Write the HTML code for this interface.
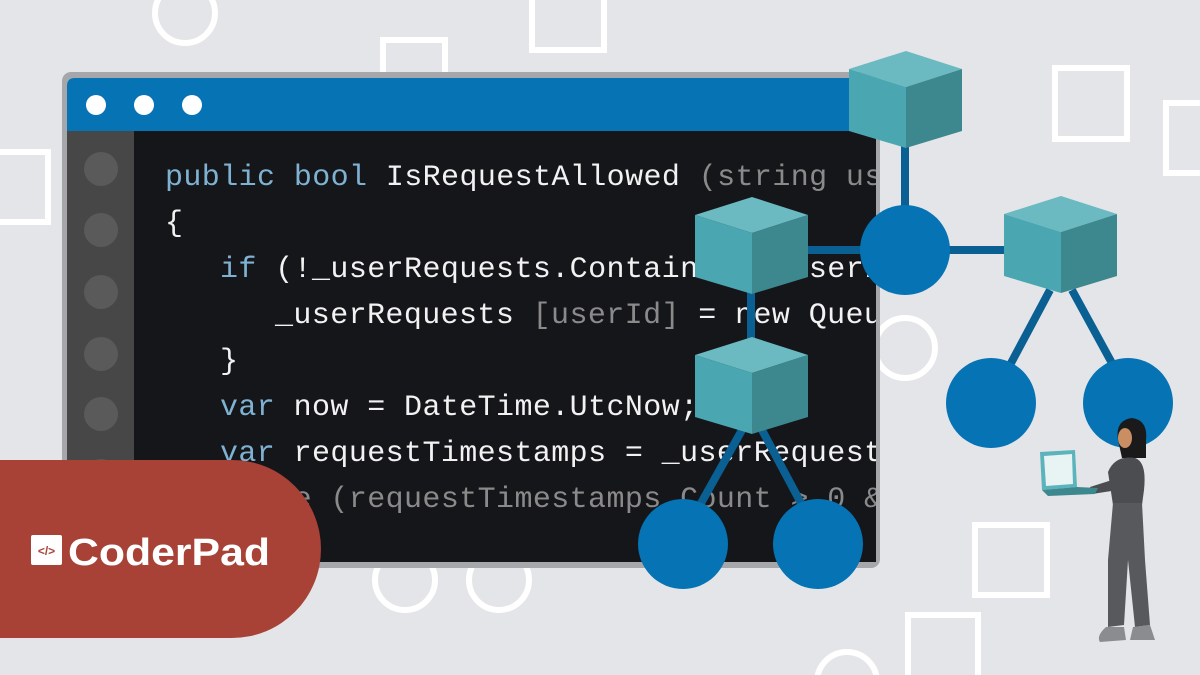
<!DOCTYPE html>
<html><head><meta charset="utf-8"><style>
html,body{margin:0;padding:0;width:1200px;height:675px;overflow:hidden;background:#e3e5e8}
svg{display:block}
.code{font-family:"Liberation Mono",monospace;font-size:30px;letter-spacing:0.4px;white-space:pre}
</style></head><body>
<svg width="1200" height="675" viewBox="0 0 1200 675" xmlns="http://www.w3.org/2000/svg">
<rect width="1200" height="675" fill="#e3e5e8"/>
<g fill="none" stroke="#fff" stroke-width="6">
<circle cx="185" cy="13" r="30"/>
<rect x="383" y="40" width="62" height="60"/>
<rect x="532" y="-10" width="72" height="60"/>
<rect x="-10" y="152" width="58" height="70"/>
<rect x="1055" y="68" width="72" height="71"/>
<rect x="1166" y="103" width="50" height="70"/>
<circle cx="905" cy="348" r="30"/>
<rect x="975" y="525" width="72" height="70"/>
<rect x="908" y="615" width="70" height="70"/>
<circle cx="847" cy="682" r="30"/>
<circle cx="405" cy="580" r="30"/>
<circle cx="499" cy="580" r="30"/>
</g>
<rect x="62" y="72" width="818" height="496" rx="9" fill="#a5a7aa"/>
<path d="M67 131 V86 Q67 78 75 78 H876 V131 Z" fill="#0573b4"/>
<circle cx="96" cy="105" r="10" fill="#fff"/><circle cx="144" cy="105" r="10" fill="#fff"/><circle cx="192" cy="105" r="10" fill="#fff"/>
<rect x="67" y="131" width="67" height="431" fill="#474747"/>
<rect x="134" y="131" width="742" height="431" fill="#15161a"/>
<g fill="#5a5a5a"><circle cx="101" cy="169" r="17"/><circle cx="101" cy="230" r="17"/><circle cx="101" cy="292" r="17"/><circle cx="101" cy="354" r="17"/><circle cx="101" cy="414" r="17"/><circle cx="101" cy="476" r="17"/></g>
<clipPath id="cc"><rect x="134" y="131" width="742" height="431"/></clipPath>
<g class="code" clip-path="url(#cc)" fill="#f2f2f2">
<text x="165" y="185"><tspan fill="#7fb2d2">public bool</tspan> IsRequestAllowed <tspan fill="#8a8a8a">(string userId)</tspan></text>
<text x="165" y="231">{</text>
<text x="220" y="277"><tspan fill="#7fb2d2">if</tspan> (!_userRequests.ContainsKey(userId))</text>
<text x="275" y="323">_userRequests <tspan fill="#8a8a8a">[userId]</tspan> = new Queue</text>
<text x="220" y="369">}</text>
<text x="220" y="415"><tspan fill="#7fb2d2">var</tspan> now = DateTime.UtcNow;</text>
<text x="220" y="461"><tspan fill="#7fb2d2">var</tspan> requestTimestamps = _userRequests</text>
<text x="220" y="507" fill="#8a8a8a">while (requestTimestamps.Count &gt; 0 &amp;&amp;</text>
</g>
<path d="M0 460 H232 A89 89 0 0 1 232 638 H0 Z" fill="#a84237"/>
<rect x="31" y="535" width="31" height="30" rx="2" fill="#fff"/>
<text x="46.5" y="555" text-anchor="middle" font-family="Liberation Sans,sans-serif" font-size="12" font-weight="bold" fill="#a84237">&lt;/&gt;</text>
<text x="68" y="565" font-family="Liberation Sans,sans-serif" font-weight="bold" font-size="38" fill="#fff" textLength="202" lengthAdjust="spacingAndGlyphs">CoderPad</text>
<g stroke="#0a5f93" stroke-width="8" fill="none">
<line x1="905" y1="140" x2="905" y2="210"/>
<line x1="800" y1="250" x2="870" y2="250"/>
<line x1="940" y1="250" x2="1010" y2="250"/>
<line x1="751" y1="290" x2="751" y2="340"/>
<line x1="742" y1="430" x2="700" y2="505"/>
<line x1="762" y1="430" x2="802" y2="505"/>
<line x1="1050" y1="290" x2="1010" y2="365"/>
<line x1="1072" y1="290" x2="1113" y2="365"/>
</g>
<g fill="#0573b4">
<circle cx="905" cy="250" r="45"/>
<circle cx="991" cy="403" r="45"/><circle cx="1128" cy="403" r="45"/>
<circle cx="683" cy="544" r="45"/><circle cx="818" cy="544" r="45"/>
</g>
<defs><g id="cube">
<polygon points="0,18 57,0 113,18 57,36" fill="#6bb9c1"/>
<polygon points="0,18 57,36 57,97 0,80" fill="#4aa7b1"/>
<polygon points="57,36 113,18 113,80 57,97" fill="#3d878e"/>
</g></defs>
<use href="#cube" x="849" y="51"/>
<use href="#cube" x="695" y="197"/>
<use href="#cube" x="695" y="337"/>
<use href="#cube" x="1004" y="196"/>
<g>
<path d="M1118 440 Q1115 420 1132 418 Q1148 420 1146 440 L1146 458 L1122 458 Z" fill="#1a1a1a"/>
<ellipse cx="1125" cy="438" rx="7" ry="10" fill="#c98f63"/>
<path d="M1108 472 Q1115 455 1135 458 Q1147 462 1144 490 L1142 505 L1113 505 Z" fill="#4c4d50"/>
<path d="M1112 480 L1090 487 L1092 494 L1118 490 Z" fill="#4c4d50"/>
<polygon points="1040,452 1075,450 1077,487 1042,490" fill="#5bb3bb"/>
<polygon points="1044,456 1072,454 1073,484 1046,486" fill="#e8f3f4"/>
<polygon points="1042,490 1077,487 1098,488 1095,494 1048,496" fill="#3d878e"/>
<path d="M1113 503 L1142 503 L1145 560 L1150 625 L1135 627 L1128 560 L1124 625 L1108 627 L1108 560 Z" fill="#58595c"/>
<path d="M1106 627 L1124 627 L1126 640 L1100 642 Q1096 636 1106 627 Z" fill="#8a8c90"/>
<path d="M1133 627 L1150 625 L1155 640 L1130 640 Z" fill="#8a8c90"/>
</g>
</svg>
</body></html>
